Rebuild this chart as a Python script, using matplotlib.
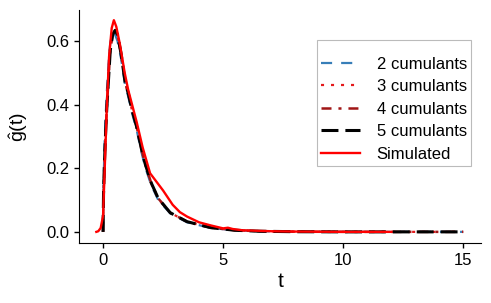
import numpy as np
import matplotlib
matplotlib.use("Agg")
import matplotlib.pyplot as plt

plt.rcParams['font.family'] = ['Liberation Sans', 'DejaVu Sans']
plt.rcParams['mathtext.fontset'] = 'custom'
plt.rcParams['mathtext.rm'] = 'Liberation Sans'
plt.rcParams['mathtext.it'] = 'Liberation Sans'
plt.rcParams['lines.scale_dashes'] = False

# values
t_model = [0, 0.02, 0.06, 0.1, 0.15, 0.22, 0.3, 0.4, 0.5, 0.6, 0.75, 0.92, 1.05, 1.2, 1.4,
           1.6, 1.75, 2.0, 2.3, 2.8, 3.5, 4.5, 5.5, 6.5, 8, 10, 12, 15]
g_cum2 = [0, 0.15, 0.27, 0.35, 0.43, 0.52, 0.595, 0.625, 0.62, 0.6, 0.545, 0.46, 0.425, 0.375, 0.32,
          0.25, 0.205, 0.148, 0.1, 0.058, 0.03, 0.012, 0.005, 0.002, 0.0005, 0, 0, 0]
g_cum3 = [0, 0.13, 0.23, 0.31, 0.39, 0.48, 0.575, 0.622, 0.632, 0.618, 0.558, 0.468, 0.433, 0.383, 0.328,
          0.258, 0.213, 0.153, 0.104, 0.06, 0.032, 0.013, 0.005, 0.002, 0.0005, 0, 0, 0]
g_cum4 = [0, 0.12, 0.22, 0.3, 0.38, 0.47, 0.57, 0.62, 0.633, 0.62, 0.56, 0.47, 0.435, 0.385, 0.33,
          0.26, 0.215, 0.155, 0.105, 0.06, 0.032, 0.013, 0.005, 0.002, 0.0005, 0, 0, 0]
g_cum5 = [0, 0.12, 0.22, 0.3, 0.38, 0.47, 0.57, 0.62, 0.633, 0.62, 0.56, 0.47, 0.435, 0.385, 0.33,
          0.26, 0.215, 0.155, 0.105, 0.06, 0.032, 0.013, 0.005, 0.002, 0.0005, 0, 0, 0]

t_sim = [-0.28, -0.2, -0.1, 0, 0.07, 0.16, 0.25, 0.36, 0.45, 0.55, 0.7, 0.9, 1.05, 1.4, 1.65, 1.96,
         2.2, 2.5, 2.9, 3.2, 3.5, 4.0, 4.5, 5.0, 5.2, 5.4, 5.8, 7, 8, 10, 12]
g_sim = [0, 0.002, 0.012, 0.05, 0.2, 0.4, 0.55, 0.64, 0.665, 0.645, 0.59, 0.5, 0.445, 0.345, 0.265, 0.184,
         0.16, 0.13, 0.085, 0.062, 0.048, 0.03, 0.02, 0.011, 0.013, 0.009, 0.005, 0.002, 0.001, 0, 0]

fig = plt.figure(figsize=(4.91, 3.03), dpi=100)
ax = fig.add_axes([0.161, 0.198, 0.819, 0.769])

ax.plot(t_model, g_cum2, color='#377eb8', lw=1.6, linestyle=(0, (8, 6.5)), label='2 cumulants')
ax.plot(t_model, g_cum3, color='#e41a1c', lw=1.6, linestyle=(0, (2.2, 5)), label='3 cumulants')
ax.plot(t_model, g_cum4, color='#a01515', lw=1.8, linestyle=(0, (7.2, 5, 2.2, 5)), label='4 cumulants')
ax.plot(t_model, g_cum5, color='black', lw=2.2, linestyle=(0, (12.2, 5)), label='5 cumulants')
ax.plot(t_sim, g_sim, color='red', lw=1.7, label='Simulated')

ax.set_xlim(-1, 15.75)
ax.set_ylim(-0.035, 0.697)
ax.set_xticks([0, 5, 10, 15])
ax.set_yticks([0.0, 0.2, 0.4, 0.6])
ax.set_yticklabels(['0.0', '0.2', '0.4', '0.6'])
ax.tick_params(labelsize=12, length=3.5, width=1)
ax.spines['top'].set_visible(False)
ax.spines['right'].set_visible(False)
ax.set_xlabel('t', fontsize=15, labelpad=3)
ax.set_ylabel(r'$\hat{g}(t)$', fontsize=14, labelpad=12)

leg = ax.legend(title=' ', loc='upper right', bbox_to_anchor=(0.975, 0.871), fontsize=12,
                title_fontsize=4, handlelength=2.35, handletextpad=1.0, labelspacing=0.45,
                borderpad=0.25, borderaxespad=0, fancybox=False, edgecolor='#bbbbbb',
                framealpha=1)
leg.get_frame().set_linewidth(0.8)

fig.savefig('out.png', dpi=100)
